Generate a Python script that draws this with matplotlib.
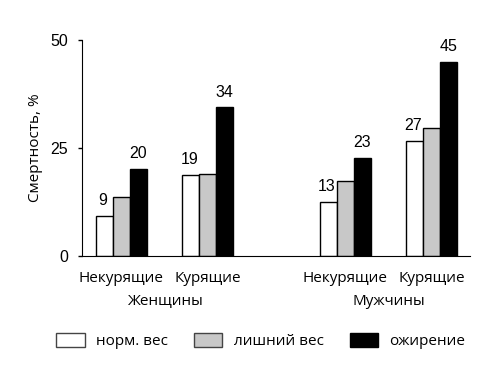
import numpy as np
import matplotlib
matplotlib.use("Agg")
import matplotlib.pyplot as plt
from matplotlib.patches import Patch

# data
groups = ["Некурящие", "Курящие", "Некурящие", "Курящие"]
genders = ["Женщины", "Мужчины"]
norm_weight = [9.3, 18.8, 12.6, 26.7]
over_weight = [13.7, 19.0, 17.3, 29.6]
obese = [20.1, 34.4, 22.8, 45.0]
norm_labels = ["9", "19", "13", "27"]
obese_labels = ["20", "34", "23", "45"]
series_names = ["норм. вес", "лишний вес", "ожирение"]

text_font = "Open Sans"
num_font = "Liberation Sans"

x = np.array([0, 1, 2.59, 3.59])
w = 0.197

fig = plt.figure(figsize=(5, 3.74), dpi=100)
ax = fig.add_axes([0.164, 0.3155, 0.776, 0.5775])

ax.bar(x - w, norm_weight, w, color="white", edgecolor="black", linewidth=1)
ax.bar(x, over_weight, w, color="#c8c8c8", edgecolor="black", linewidth=1)
ax.bar(x + w, obese, w, color="black", edgecolor="black", linewidth=1)

for xi, v, lab in zip(x - w, norm_weight, norm_labels):
    ax.annotate(lab, (xi, v), xytext=(-1, 11), textcoords="offset points",
                ha="center", va="center", fontsize=11.5, family=num_font)
for xi, v, lab in zip(x + w, obese, obese_labels):
    ax.annotate(lab, (xi, v), xytext=(0, 11), textcoords="offset points",
                ha="center", va="center", fontsize=11.5, family=num_font)

ax.set_xlim(-0.454, 4.03)
ax.set_ylim(0, 50)
ax.set_yticks([0, 25, 50])
ax.set_yticklabels(["0", "25", "50"], family=num_font, fontsize=11.5)
ax.set_xticks(x)
ax.set_xticklabels(groups, family=text_font, fontsize=11)
ax.tick_params(axis="x", length=0, pad=11)
ax.tick_params(axis="y", length=3, pad=7, width=1)

ax.spines["top"].set_visible(False)
ax.spines["right"].set_visible(False)

ax.set_ylabel("Смертность, %", family=text_font, fontsize=11, labelpad=5)

# gender labels under the tick labels
for gx, g in zip([(x[0] + x[1]) / 2, (x[2] + x[3]) / 2], genders):
    ax.text(gx, -0.212, g, transform=ax.get_xaxis_transform(),
            ha="center", va="center", family=text_font, fontsize=11)

handles = [
    Patch(facecolor="white", edgecolor="#444444", linewidth=1),
    Patch(facecolor="#c8c8c8", edgecolor="#444444", linewidth=1),
    Patch(facecolor="black", edgecolor="black", linewidth=1),
]
fig.legend(handles, series_names, ncol=3, loc="center",
           bbox_to_anchor=(0.522, 0.088), frameon=False,
           prop={"family": text_font, "size": 11},
           handlelength=1.85, handleheight=1.1,
           handletextpad=0.75, columnspacing=1.7)

fig.savefig("out.png", dpi=100)
